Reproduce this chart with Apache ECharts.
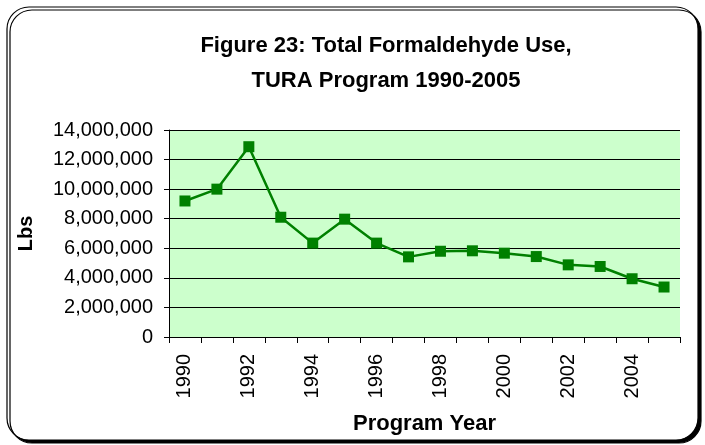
<!DOCTYPE html>
<html>
<head>
<meta charset="utf-8">
<script src="https://cdn.jsdelivr.net/npm/echarts@6/dist/echarts.min.js"></script>
<style>
  html, body { margin: 0; padding: 0; background: #fff; }
  #chart { width: 705px; height: 445px; }
</style>
</head>
<body>
<div id="chart"></div>
<script>
// data
const years = ['1990', '1991', '1992', '1993', '1994', '1995', '1996', '1997',
  '1998', '1999', '2000', '2001', '2002', '2003', '2004', '2005'];
const formaldehydeLbs = [9200000, 10000000, 12870000, 8100000, 6350000, 7970000, 6350000, 5420000,
  5800000, 5830000, 5670000, 5440000, 4880000, 4770000, 3940000, 3380000];
const yTicks = [0, 2000000, 4000000, 6000000, 8000000, 10000000, 12000000, 14000000];

const chart = echarts.init(document.getElementById('chart'));
const FONT = 'Liberation Sans, Arial, sans-serif';

const option = {
  animation: false,
  backgroundColor: 'transparent',
  graphic: [{
    type: 'rect',
    z: -10,
    shape: { x: 7, y: 7, width: 691, height: 433, r: 22 },
    style: {
      fill: '#fff', stroke: '#000', lineWidth: 1.2,
      shadowColor: '#000', shadowOffsetX: 3, shadowOffsetY: 3, shadowBlur: 0
    }
  }],
  title: {
    text: 'Figure 23: Total Formaldehyde Use,\nTURA Program 1990-2005',
    left: 386,
    top: 28,
    padding: 0,
    textAlign: 'center',
    textStyle: { fontFamily: FONT, fontSize: 22, fontWeight: 'bold', color: '#000', lineHeight: 35 }
  },
  grid: {
    left: 169, right: 25, top: 130, bottom: 108,
    show: true, backgroundColor: '#CCFFCC', borderWidth: 0
  },
  xAxis: {
    type: 'category',
    data: years,
    boundaryGap: true,
    name: 'Program Year',
    nameLocation: 'middle',
    nameGap: 76,
    nameTextStyle: { fontFamily: FONT, fontSize: 22, fontWeight: 'bold', color: '#000' },
    axisLine: { lineStyle: { color: '#000', width: 1 } },
    axisTick: { show: true, interval: 0, length: 6, lineStyle: { color: '#000' } },
    axisLabel: {
      interval: 1, rotate: 90, margin: 17,
      fontFamily: FONT, fontSize: 20, color: '#000'
    },
    splitLine: { show: false }
  },
  yAxis: {
    type: 'value',
    min: yTicks[0],
    max: yTicks[yTicks.length - 1],
    interval: yTicks[1] - yTicks[0],
    name: 'Lbs',
    nameLocation: 'middle',
    nameGap: 133,
    nameTextStyle: { fontFamily: FONT, fontSize: 20, fontWeight: 'bold', color: '#000' },
    axisLine: { show: true, lineStyle: { color: '#000', width: 1 } },
    axisTick: { show: true, length: 5, lineStyle: { color: '#000' } },
    axisLabel: {
      margin: 16, fontFamily: FONT, fontSize: 20, color: '#000',
      formatter: v => v.toLocaleString('en-US')
    },
    splitLine: { show: true, lineStyle: { color: '#000', width: 1 } }
  },
  series: [{
    type: 'line',
    data: formaldehydeLbs,
    color: '#008000',
    symbol: 'rect',
    symbolSize: 11,
    lineStyle: { width: 2.5, color: '#008000' },
    itemStyle: { color: '#008000' }
  }]
};

chart.setOption(option);
</script>
</body>
</html>
